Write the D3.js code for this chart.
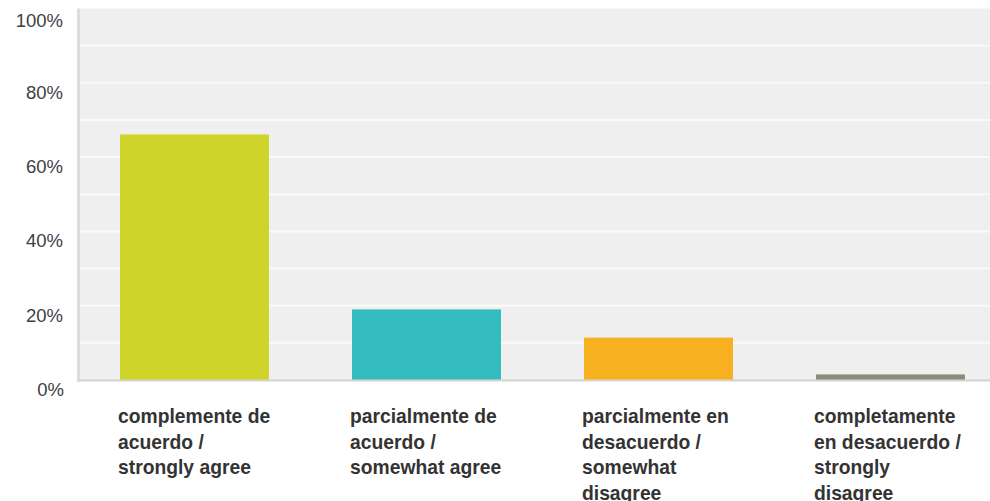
<!DOCTYPE html>
<html><head><meta charset="utf-8">
<script src="https://cdn.jsdelivr.net/npm/d3@7"></script>
<style>html,body{margin:0;padding:0;background:#fff;overflow:hidden}</style>
</head><body><svg id="chart" width="990" height="501"></svg>
<script>
const categories = ["strongly agree","somewhat agree","somewhat disagree","strongly disagree"];
const categoryLines = [
  ["complemente de","acuerdo /","strongly agree"],
  ["parcialmente de","acuerdo /","somewhat agree"],
  ["parcialmente en","desacuerdo /","somewhat","disagree"],
  ["completamente","en desacuerdo /","strongly","disagree"]
];
const values = [66.1, 19.0, 11.4, 1.5];
const colors = ["#cfd42a","#33bcbf","#f6b020","#8a8c78"];
const yTicks = [0,20,40,60,80,100];
const gridTicks = [10,20,30,40,50,60,70,80,90];

const svg = d3.select("#chart");
const plotLeft = 80, plotRight = 990, plotTop = 8.5, plotBottom = 380;
const x = d3.scaleBand().domain(categories).range([78.5, 1006.5]).paddingInner(0.358).paddingOuter(0.179);
const y = d3.scaleLinear().domain([0,100]).range([plotBottom, plotTop]);

svg.append("rect").attr("x",plotLeft).attr("y",plotTop).attr("width",plotRight-plotLeft).attr("height",plotBottom-plotTop).attr("fill","#efefef");
svg.append("g").selectAll("line").data(gridTicks).join("line")
  .attr("x1",plotLeft).attr("x2",plotRight).attr("y1",d=>y(d)).attr("y2",d=>y(d))
  .attr("stroke","#fafafa").attr("stroke-width",2);

svg.append("g").selectAll("rect").data(values).join("rect")
  .attr("x",(d,i)=>x(categories[i])).attr("width",x.bandwidth())
  .attr("y",d=>y(d)).attr("height",d=>plotBottom-y(d))
  .attr("fill",(d,i)=>colors[i]);

// axes lines
svg.append("line").attr("x1",78.5).attr("x2",78.5).attr("y1",plotTop).attr("y2",plotBottom+1.5).attr("stroke","#dcdcdc").attr("stroke-width",3);
svg.append("line").attr("x1",77).attr("x2",plotRight).attr("y1",plotBottom+0.5).attr("y2",plotBottom+0.5).attr("stroke","#d4d4d4").attr("stroke-width",2);

svg.append("g").selectAll("text").data(yTicks).join("text")
  .attr("x",d=>d===0?64:63).attr("y",d=>Math.max(y(d)+16,27))
  .attr("text-anchor","end").attr("font-family","Liberation Sans, Arial, sans-serif")
  .attr("font-size","18.5px").attr("fill","#404040")
  .text(d=>d+"%");

const lab = svg.append("g").selectAll("text").data(categories).join("text")
  .attr("x",d=>x(d)-2).attr("y",423)
  .attr("font-family","Liberation Sans, Arial, sans-serif").attr("font-weight","bold")
  .attr("font-size","19.3px").attr("fill","#333");
lab.each(function(d,i){
  d3.select(this).selectAll("tspan").data(categoryLines[i]).join("tspan")
    .attr("x",x(d)-2).attr("dy",(t,j)=>j===0?0:25.5).text(t=>t);
});
</script></body></html>
